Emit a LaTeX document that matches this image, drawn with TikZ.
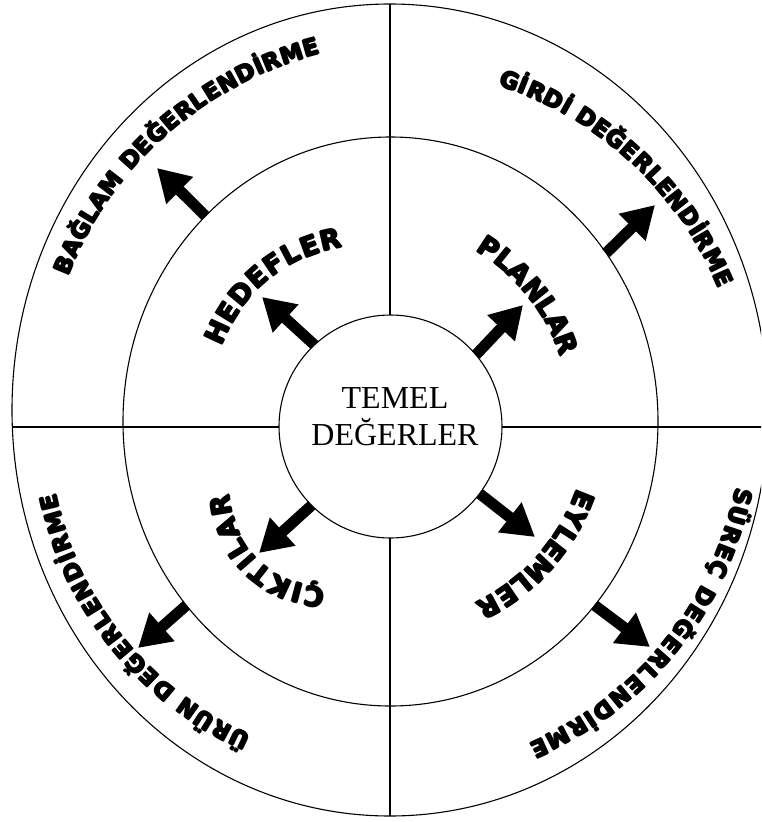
\documentclass[tikz,border=0pt]{standalone}
\usepackage{fontspec}
\usetikzlibrary{arrows.meta,decorations.text,shapes.geometric}
\newfontfamily\heavy{DejaVu Sans}
\newfontfamily\serifx{Liberation Serif}
\newcommand\outerfont{\heavy\bfseries\fontsize{23}{26}\selectfont}
\newcommand\innerfont{\heavy\bfseries\fontsize{27}{30}\selectfont}
% #1 r start, #2 r end, #3 angle start, #4 angle end, #5 bulge, #6 font, #7 text
\newcommand\arclabel[7]{%
  \foreach \ox/\oy in {0/0,1/0,-1/0,0/1,0/-1}{%
  \path[shift={(\ox,\oy)},decorate,decoration={text along path,text align=fit to path,text={|#6|#7}}]
    plot[domain=#3:#4,samples=90,variable=\t]
    ({390+((#1)+((#2)-(#1))*(\t-(#3))/((#4)-(#3))+(#5)*sin(180*(\t-(#3))/((#4)-(#3))))*cos(\t)},
     {426-((#1)+((#2)-(#1))*(\t-(#3))/((#4)-(#3))+(#5)*sin(180*(\t-(#3))/((#4)-(#3))))*sin(\t)});}}
\tikzset{
  thin line/.style={line width=1.1pt},
  bigarrow/.style={line width=11pt,-{Triangle[length=32pt,width=36pt]}},
  ring/.style={ellipse,draw,thin line,inner sep=0pt,outer sep=0pt}
}
\begin{document}
\begin{tikzpicture}[x=1pt,y=-1pt]
\useasboundingbox (0,0) rectangle (761,822);
\clip (0,0) rectangle (761,822);
% cross lines
\draw[thin line] (12,427) -- (770,427);
\draw[thin line] (390,4) -- (390,816);
% rings
\node[ring,minimum width=756pt,minimum height=812pt] (rim) at (390,410) {};
\node[ring,minimum width=535pt,minimum height=569pt] (mid) at (390.5,421.5) {};
\node[circle,draw,thin line,fill=white,minimum size=223pt,inner sep=0pt,outer sep=0pt] (core) at (390.5,426.5) {};
\node[align=center,inner sep=0pt,font=\serifx\fontsize{32}{37}\selectfont] (coretext) at (395,417) {TEMEL\\DEĞERLER};
% arrow tips
\coordinate (tNW) at (262,297);
\coordinate (tNE) at (523,305);
\coordinate (tSE) at (535,537);
\coordinate (tSW) at (259,553);
\coordinate (oNW) at (157,168);
\coordinate (oNE) at (655,205);
\coordinate (oSE) at (650,647);
\coordinate (oSW) at (138,648);
\draw[bigarrow] (core.133) -- (tNW);
\draw[bigarrow] (core.40) -- (tNE);
\draw[bigarrow] (core.-37) -- (tSE);
\draw[bigarrow] (core.225) -- (tSW);
\draw[bigarrow] (mid.132) -- (oNW);
\draw[bigarrow] (mid.38) -- (oNE);
\draw[bigarrow] (mid.-42) -- (oSE);
\draw[bigarrow] (mid.222) -- (oSW);
% curved labels
\arclabel{354.6}{378.6}{155.0}{100.5}{0}{\outerfont}{BAĞLAM DEĞERLENDİRME}
\arclabel{357.5}{356.5}{72.3}{22.7}{0}{\outerfont}{GİRDİ DEĞERLENDİRME}
\arclabel{351.5}{346.5}{-10.0}{-66.4}{0}{\outerfont}{SÜREÇ DEĞERLENDİRME}
\arclabel{339.5}{340.5}{245.9}{191.4}{0}{\outerfont}{ÜRÜN DEĞERLENDİRME}
\arclabel{186}{185}{154.9}{104.7}{4}{\innerfont}{HEDEFLER}
\arclabel{195}{184.5}{63.9}{24.0}{0}{\innerfont}{PLANLAR}
\arclabel{197}{196.5}{-18.5}{-63}{0}{\innerfont}{EYLEMLER}
\arclabel{174}{174}{248.4}{202.9}{14}{\innerfont}{ÇIKTILAR}
\end{tikzpicture}
\end{document}
